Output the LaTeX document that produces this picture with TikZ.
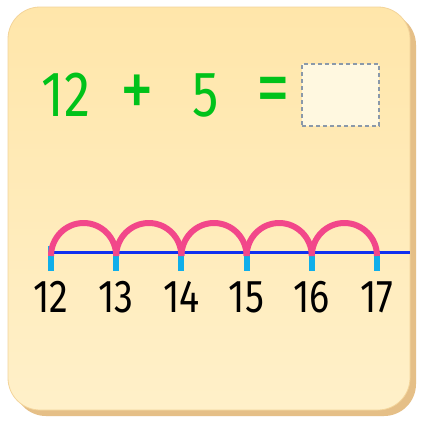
\documentclass[tikz,border=0pt]{standalone}
\usepackage{fontspec}
\setmainfont{Fira Sans}
\newfontfamily\digitfont[FakeStretch=0.82]{Fira Sans}
\definecolor{cardtop}{HTML}{FFE6AA}
\definecolor{cardbot}{HTML}{FFF0C9}
\definecolor{cardshadow}{HTML}{E5BF87}
\definecolor{cardedge}{HTML}{F3D49A}
\definecolor{eqgreen}{HTML}{00C21A}
\definecolor{boxfill}{HTML}{FFF8E0}
\definecolor{boxedge}{HTML}{8A99AA}
\definecolor{linblue}{HTML}{1030F0}
\definecolor{tickcyan}{HTML}{10AEEA}
\definecolor{arcpink}{HTML}{F2478A}
\tikzset{
  eqtext/.style={text=eqgreen, font=\digitfont\fontsize{64}{64}\selectfont, inner sep=0pt},
  eqsign/.style={text=eqgreen, font=\digitfont\fontsize{82}{82}\selectfont, inner sep=0pt},
  numlabel/.style={text=black, font=\digitfont\fontsize{46}{46}\selectfont, inner sep=0pt},
  tickmark/.style={draw=tickcyan, line width=6pt},
  hop/.style={draw=arcpink, line width=6pt},
  answerbox/.style={draw=boxedge, fill=boxfill, dashed, line width=1.5pt, dash pattern=on 4pt off 3pt}
}
\begin{document}
\begin{tikzpicture}[x=1pt,y=-1pt]
\useasboundingbox (0,0) rectangle (424,424);
\fill[white] (0,0) rectangle (424,424);
% card shadow and card
\fill[cardshadow, rounded corners=32pt] (14,13) rectangle (416,416);
\shade[top color=cardtop, bottom color=cardbot, rounded corners=32pt, draw=cardedge, line width=0.8pt] (8,7) rectangle (410,410);
% equation
\node[eqtext] (a) at (66,95) {12};
\node[eqsign] (plus) at (137,96) {+};
\node[eqtext] (b) at (206,95) {5};
\node[eqsign] (eq) at (273,96) {=};
\node[answerbox, minimum width=77pt, minimum height=62pt, inner sep=0pt] (ans) at (340.5,95) {};
% number line
\foreach \i/\v in {0/12,1/13,2/14,3/15,4/16,5/17}{
  \coordinate (t\i) at ({51+65.2*\i},252);
  \coordinate (b\i) at ({51+65.2*\i},271);
}
\coordinate (s0) at (51,246);
\draw[tickmark] (s0) -- (b0);
\foreach \i in {1,...,5}{ \draw[tickmark] (t\i) -- (b\i); }
\coordinate (lend) at (410,252);
\draw[linblue, line width=3pt] (t0) -- (lend);
\foreach \i in {0,...,4}{
  \draw[hop] ([yshift=-4pt]t\i) arc[start angle=180, end angle=360, x radius=32.6, y radius=33];
}
\foreach \i/\v in {0/12,1/13,2/14,3/15,4/16,5/17}{
  \node[numlabel] (l\i) at ({51+65.2*\i},297) {\v};
}
\end{tikzpicture}
\end{document}
